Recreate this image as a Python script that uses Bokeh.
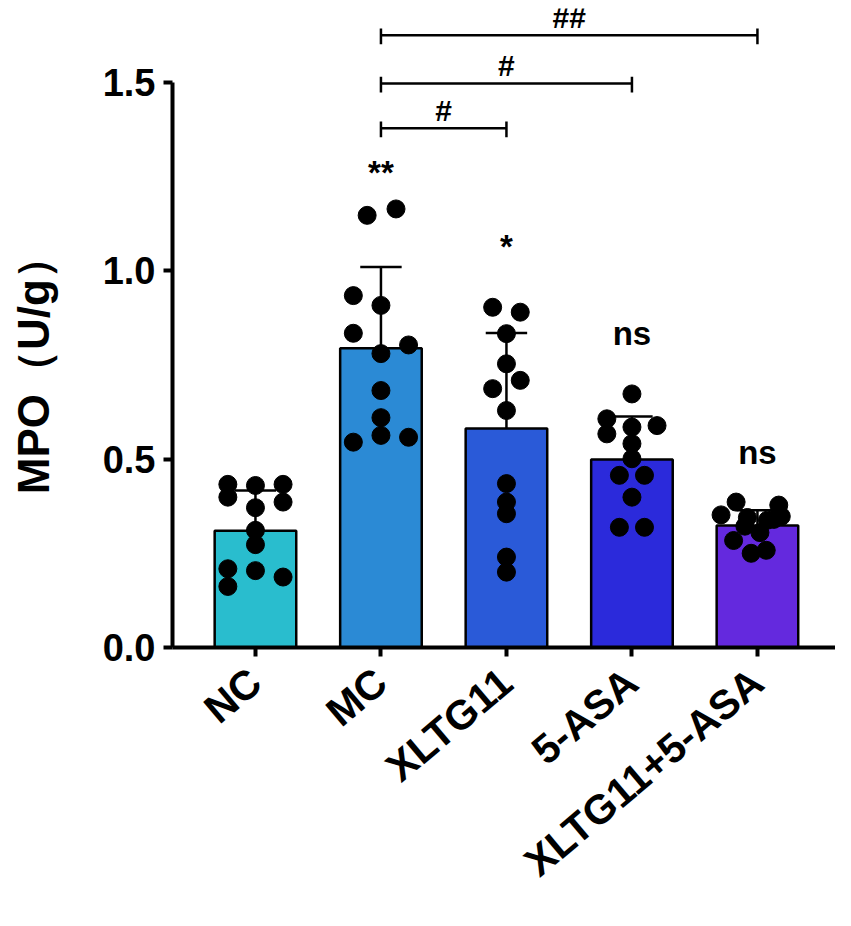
from bokeh.plotting import figure
from bokeh.models import Range1d, FixedTicker
from bokeh.embed import file_html
from bokeh.resources import INLINE
from bokeh.core.properties import value

# ---------------- data ----------------
groups = ["NC", "MC", "XLTG11", "5-ASA", "XLTG11+5-ASA"]
means = [0.310, 0.794, 0.581, 0.499, 0.324]
sds = [0.107, 0.216, 0.254, 0.114, 0.040]
bar_colors = ["#29BDCE", "#2B8AD5", "#2A5AD8", "#2B2ADB", "#6429DE"]

nc_vals = [0.433, 0.430, 0.433, 0.399, 0.386, 0.371, 0.311, 0.273, 0.209, 0.204, 0.187, 0.162]
nc_dx = [-0.22, 0.0, 0.22, -0.22, 0.22, 0.0, 0.0, 0.0, -0.22, 0.0, 0.22, -0.22]
mc_vals = [1.147, 1.164, 0.934, 0.908, 0.834, 0.780, 0.803, 0.682, 0.610, 0.545, 0.563, 0.558]
mc_dx = [-0.11, 0.12, -0.22, 0.0, -0.22, 0.0, 0.22, 0.0, 0.0, -0.22, 0.0, 0.22]
xl_vals = [0.903, 0.890, 0.833, 0.753, 0.687, 0.709, 0.629, 0.435, 0.386, 0.355, 0.240, 0.200]
xl_dx = [-0.11, 0.11, 0.0, 0.0, -0.11, 0.11, 0.0, 0.0, 0.0, 0.0, 0.0, 0.0]
asa_vals = [0.673, 0.607, 0.585, 0.589, 0.567, 0.541, 0.501, 0.457, 0.457, 0.399, 0.319, 0.319]
asa_dx = [0.0, -0.2, 0.0, 0.2, -0.2, 0.0, 0.0, -0.1, 0.1, 0.0, -0.1, 0.1]
combo_vals = [0.386, 0.378, 0.352, 0.348, 0.345, 0.338, 0.322, 0.305, 0.284, 0.258, 0.250, 0.340]
combo_dx = [-0.17, 0.17, -0.29, 0.19, -0.08, 0.08, -0.10, 0.02, -0.19, 0.07, -0.05, 0.13]

dots = [(nc_vals, nc_dx), (mc_vals, mc_dx), (xl_vals, xl_dx), (asa_vals, asa_dx), (combo_vals, combo_dx)]

sig_labels = ["", "**", "*", "ns", "ns"]
sig_y = [0.0, 1.261, 1.065, 0.834, 0.518]

# comparisons: (from, to, label, bracket height)
comparisons = [(1, 2, "#", 1.378), (1, 3, "#", 1.497), (1, 4, "##", 1.625)]

y_ticks = [0.0, 0.5, 1.0, 1.5]
y_title = "MPO（U/g）"

FONT = "Liberation Sans"

# ---------------- figure ----------------
p = figure(width=835, height=910, output_backend="svg", toolbar_location=None,
           x_range=Range1d(-0.661, 4.622), y_range=Range1d(0, 1.696),
           min_border_left=172, min_border_right=0, min_border_top=8, min_border_bottom=263)
p.xgrid.visible = False
p.ygrid.visible = False
p.outline_line_color = None
p.background_fill_color = "white"

idx = list(range(len(groups)))

p.vbar(x=idx, top=means, width=0.65, fill_color=bar_colors, line_color="black", line_width=2.5)

tops = [m + s for m, s in zip(means, sds)]
p.segment(x0=idx, y0=means, x1=idx, y1=tops, line_color="black", line_width=2.5)
p.segment(x0=[i - 0.165 for i in idx], y0=tops, x1=[i + 0.165 for i in idx], y1=tops,
          line_color="black", line_width=2.5)

xs, ys = [], []
for i, (vals, dx) in enumerate(dots):
    for v, d in zip(vals, dx):
        xs.append(i + d)
        ys.append(v)
p.scatter(x=xs, y=ys, size=18, color="black")

# significance marks
sx = [i for i, s in zip(idx, sig_labels) if s]
sy = [y for y, s in zip(sig_y, sig_labels) if s]
st = [s for s in sig_labels if s]
p.text(x=sx, y=sy, text=st, text_font=value(FONT), text_font_style="bold",
       text_font_size="33px", text_align="center", text_baseline="middle", text_color="black")

# brackets
for a, b, lab, h in comparisons:
    p.segment(x0=[a], y0=[h], x1=[b], y1=[h], line_color="black", line_width=2.5)
    p.segment(x0=[a, b], y0=[h + 0.018, h + 0.018], x1=[a, b], y1=[h - 0.024, h - 0.024],
              line_color="black", line_width=2.5)
    p.text(x=[(a + b) / 2], y=[h + 0.004], text=[lab], text_font=value(FONT), text_font_style="bold",
           text_font_size="30px", text_align="center", text_baseline="bottom", text_color="black")

# axes
xa = p.xaxis[0]
xa.ticker = FixedTicker(ticks=idx)
xa.major_label_overrides = {i: g for i, g in zip(idx, groups)}
xa.major_label_orientation = 0.70
xa.major_label_text_font = FONT
xa.major_label_text_font_style = "bold"
xa.major_label_text_font_size = "41px"
xa.major_label_text_color = "black"
xa.major_label_standoff = 20
xa.axis_line_width = 4
xa.axis_line_color = "black"
xa.major_tick_line_width = 4
xa.major_tick_line_color = "black"
xa.major_tick_out = 9
xa.major_tick_in = 0
xa.minor_tick_line_color = None

ya = p.yaxis[0]
ya.ticker = FixedTicker(ticks=y_ticks)
ya.major_label_overrides = {t: f"{t:.1f}" for t in y_ticks}
ya.bounds = (0, 1.5)
ya.major_label_text_font = FONT
ya.major_label_text_font_style = "bold"
ya.major_label_text_font_size = "38px"
ya.major_label_text_color = "black"
ya.major_label_standoff = 8
ya.axis_line_width = 4
ya.axis_line_color = "black"
ya.major_tick_line_width = 4
ya.major_tick_line_color = "black"
ya.major_tick_out = 9
ya.major_tick_in = 0
ya.minor_tick_line_color = None
ya.axis_label = y_title + "\u00a0" * 6
ya.axis_label_text_font = FONT
ya.axis_label_text_font_style = "bold"
ya.axis_label_text_font_size = "44px"
ya.axis_label_text_color = "black"
ya.axis_label_standoff = 42

open("out.html", "w").write(file_html(p, INLINE))
